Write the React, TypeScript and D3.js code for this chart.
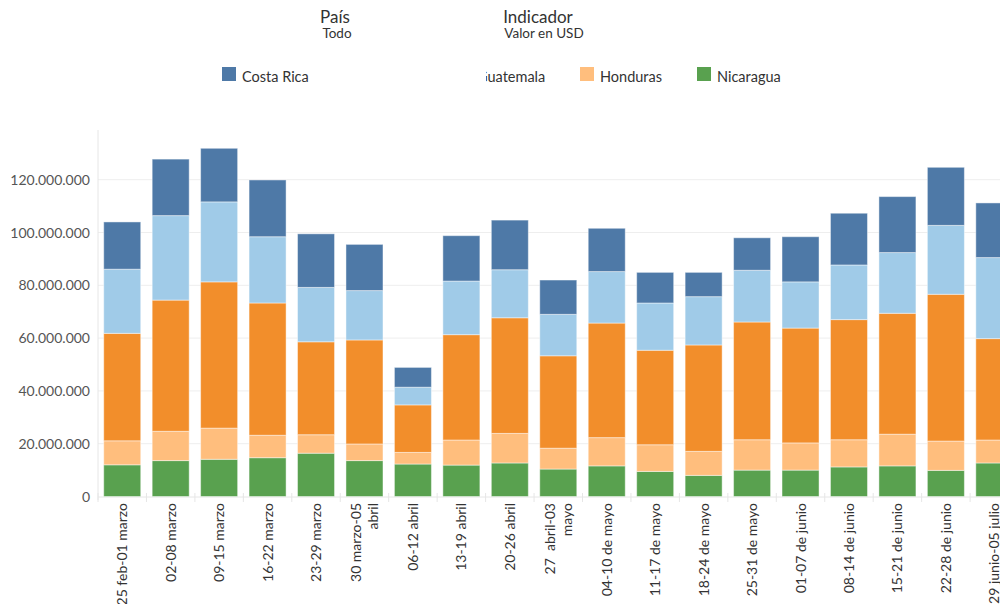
import React from "react";
import * as d3 from "d3";

const categories: string[][] = [
  ["25 feb-01 marzo"],
  ["02-08 marzo"],
  ["09-15 marzo"],
  ["16-22 marzo"],
  ["23-29 marzo"],
  ["30 marzo-05", "abril"],
  ["06-12 abril"],
  ["13-19 abril"],
  ["20-26 abril"],
  ["27  abril-03", "mayo"],
  ["04-10 de mayo"],
  ["11-17 de mayo"],
  ["18-24 de mayo"],
  ["25-31 de mayo"],
  ["01-07 de junio"],
  ["08-14 de junio"],
  ["15-21 de junio"],
  ["22-28 de junio"],
  ["29 junio-05 julio"],
];

// values in millions USD
const nicaragua = [12.0, 13.6, 14.1, 14.7, 16.4, 13.6, 12.3, 11.9, 12.7, 10.4, 11.6, 9.5, 8.0, 10.0, 10.0, 11.2, 11.6, 9.9, 12.7];
const honduras = [9.1, 11.1, 11.8, 8.5, 7.0, 6.3, 4.4, 9.5, 11.2, 7.9, 10.7, 10.1, 9.1, 11.5, 10.3, 10.3, 12.0, 11.1, 8.7];
const guatemala = [40.7, 49.7, 55.4, 50.1, 35.2, 39.4, 18.0, 39.9, 43.8, 35.0, 43.4, 35.8, 40.3, 44.6, 43.5, 45.5, 45.8, 55.6, 38.4];
const elSalvador = [24.3, 32.0, 30.3, 25.1, 20.6, 18.7, 6.7, 20.3, 18.2, 15.7, 19.5, 17.9, 18.3, 19.6, 17.5, 20.7, 23.0, 26.1, 30.7];
const costaRica = [17.9, 21.4, 20.3, 21.5, 20.3, 17.5, 7.5, 17.2, 18.8, 13.0, 16.4, 11.6, 9.2, 12.3, 17.1, 19.6, 21.2, 22.0, 20.7];

const seriesNames = ["Nicaragua", "Honduras", "Guatemala", "El Salvador", "Costa Rica"];
const seriesValues = [nicaragua, honduras, guatemala, elSalvador, costaRica];
const seriesColors = ["#59a14f", "#ffbe7d", "#f28e2b", "#a0cbe8", "#4e79a7"];

const yTicks = [0, 20, 40, 60, 80, 100, 120];

const legendItems = [
  { name: "Costa Rica", color: "#4e79a7", x: 222 },
  { name: "El Salvador", color: "#a0cbe8", x: 340 },
  { name: "Guatemala", color: "#f28e2b", x: 457 },
  { name: "Honduras", color: "#ffbe7d", x: 580 },
  { name: "Nicaragua", color: "#59a14f", x: 697 },
];

const FONT = "Lato, 'Open Sans', sans-serif";

export default function App() {
  const left = 98;
  const plotTop = 130;
  const n = categories.length;
  const step = 48.45;
  const x = d3
    .scaleBand<number>()
    .domain(d3.range(n))
    .range([left, left + n * step])
    .paddingInner(0.236)
    .paddingOuter(0.118);
  const y = d3.scaleLinear().domain([0, 120]).range([496.5, 179.7]);

  const rows = d3.range(n).map((i) => {
    const r: any = { i };
    seriesNames.forEach((s, k) => (r[s] = seriesValues[k][i]));
    return r;
  });
  const stacked = d3.stack<any>().keys(seriesNames)(rows);
  const fmt = (v: number) => (v === 0 ? "0" : d3.format(",")(v * 1e6).replace(/,/g, "."));

  return (
    <svg
      width={1000}
      height={604}
      style={{ position: "fixed", left: 0, top: 0, background: "#fff" }}
      fontFamily={FONT}
    >
      {/* header */}
      <text x={335} y={23} fontSize={17} fill="#333" textAnchor="middle">País</text>
      <text x={337} y={38} fontSize={13.5} fill="#333" textAnchor="middle">Todo</text>
      <text x={538} y={23} fontSize={17} fill="#333" textAnchor="middle">Indicador</text>
      <text x={544} y={38} fontSize={13.5} fill="#333" textAnchor="middle">Valor en USD</text>

      {/* legend */}
      {legendItems.map((d) => (
        <g key={d.name}>
          <rect x={d.x} y={67} width={14} height={14} fill={d.color} />
          <text x={d.x + 20} y={82} fontSize={14.5} fill="#333">{d.name}</text>
        </g>
      ))}
      <rect x={318} y={60} width={168} height={34} fill="#fff" />

      {/* grid */}
      {yTicks.map((t) => (
        <g key={t}>
          {t > 0 && <line x1={left} x2={1000} y1={y(t)} y2={y(t)} stroke="#eeeeee" strokeWidth={1} />}
          <text x={90} y={y(t) + 5} fontSize={14} fill="#555" textAnchor="end">{fmt(t)}</text>
        </g>
      ))}
      <line x1={left} x2={left} y1={plotTop} y2={500} stroke="#e6e6e6" />
      <line x1={left} x2={1000} y1={497} y2={497} stroke="#e6e6e6" />
      {d3.range(n + 1).map((i) => (
        <line key={i} x1={left + i * step} x2={left + i * step} y1={493} y2={502} stroke="#e6e6e6" />
      ))}

      {/* bars */}
      {stacked.map((layer, k) => (
        <g key={layer.key} fill={seriesColors[k]}>
          {layer.map((seg, i) => (
            <rect
              key={i}
              x={x(i)!}
              width={x.bandwidth()}
              y={y(seg[1])}
              height={y(seg[0]) - y(seg[1])}
              stroke="rgba(255,255,255,0.45)"
              strokeWidth={1}
            />
          ))}
        </g>
      ))}

      {/* x labels */}
      {categories.map((lines, i) => {
        const cx = x(i)! + x.bandwidth() / 2;
        const lh = 17;
        const offset = -((lines.length - 1) * lh) / 2;
        return (
          <g key={i}>
            {lines.map((ln, j) => {
              const lx = cx + offset + j * lh + 5;
              return (
                <text
                  key={j}
                  transform={`translate(${lx},503) rotate(-90)`}
                  textAnchor="end"
                  fontSize={14}
                  fill="#333"
                  style={{ whiteSpace: "pre" }}
                >
                  {ln}
                </text>
              );
            })}
          </g>
        );
      })}
    </svg>
  );
}
